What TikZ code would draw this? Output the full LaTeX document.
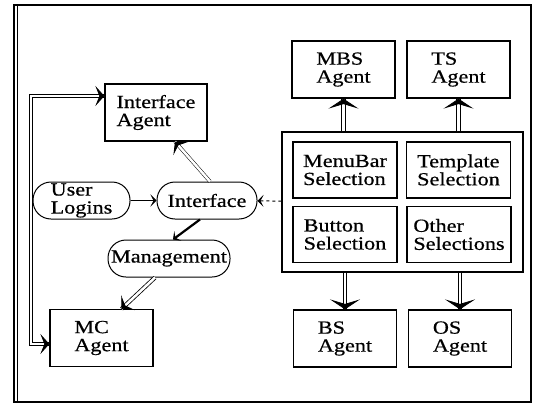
\documentclass[tikz,border=0pt]{standalone}
\usepackage{fontspec}
\setmainfont{Liberation Serif}[FakeStretch=1.2, FakeBold=0.6]
\usetikzlibrary{arrows.meta, calc}

\begin{document}
\begin{tikzpicture}[x=1pt, y=-1pt]
\tikzstyle{every node}=[font=\fontsize{18.5}{18}\selectfont, inner sep=0pt, align=left]
\tikzstyle{agentbox}=[draw, line width=1.2pt, minimum width=103pt, minimum height=57pt]
\tikzstyle{selbox}=[draw, line width=1.2pt, minimum width=104pt, minimum height=56pt]
\tikzstyle{pill}=[draw, line width=1pt, rounded corners=18pt, minimum height=37pt]
\tikzstyle{dbl}=[double, double distance=2.5pt, line width=0.8pt]
\tikzstyle{barb}=[-{Stealth[length=6pt, width=12pt, inset=3pt]}]
\tikzstyle{bigtip}=[line width=0.8pt, -{Stealth[length=10pt, width=30pt, inset=4.5pt]}]
\tikzstyle{midtip}=[line width=0.8pt, -{Stealth[length=9pt, width=20pt, inset=4pt]}]
\useasboundingbox (0,0) rectangle (534,404);
% frame
\draw[line width=1.3pt] (14,5) rectangle (531,402);
\draw[line width=1pt] (17,5) -- (17,402);

% left side
\node[agentbox, minimum width=102pt]	(ia)	at (156,112.5)	{Interface\\Agent};
\node[agentbox]				(mc)	at (101.5,338)	{MC\\Agent};
\node[pill, minimum width=97pt]		(ul)	at (81.5,200.5)	{User\\Logins};
\node[pill, minimum width=100pt]	(ifc)	at (207,200.5)	{Interface};
\node[pill, minimum width=122pt]	(mgt)	at (169,258.5)	{Management};

% selections
\node[draw, line width=1.2pt, minimum width=241pt, minimum height=140pt] (grp) at (402.5,202) {};
\node[selbox]	(mbsel)	at (345,170)	{MenuBar\\Selection};
\node[selbox]	(tsel)	at (458.5,170)	{Template\\Selection};
\node[selbox]	(bsel)	at (345,234.5)	{Button\\Selection};
\node[selbox]	(osel)	at (459,234.5)	{Other\\Selections};

\node[agentbox]	(mbs)	at (343.5,69.5)	{MBS\\Agent};
\node[agentbox]	(ts)	at (458.5,69.5)	{TS\\Agent};
\node[agentbox]	(bs)	at (345,338.5)	{BS\\Agent};
\node[agentbox]	(os)	at (460,338.5)	{OS\\Agent};

% connectors
\coordinate (hi) at (31,96);
\coordinate (lo) at (31,344);
\coordinate (iaw) at (ia.west |- hi);
\coordinate (mcw) at (mc.west |- lo);
\coordinate (ifn) at ([xshift=3pt]ifc.north);
\coordinate (ias) at ([xshift=19pt]ia.south);
\coordinate (mgs) at ([xshift=-14pt]mgt.south);
\coordinate (mcn) at ([xshift=20pt]mc.north);
\draw[dbl] (iaw) -- (hi) -- (lo) -- (mcw);
\path
(ul)	edge[barb, line width=1.2pt]	(ifc)
(grp)	edge[barb, dashed, line width=1pt]	(ifc)
([xshift=-7pt]ifc.south)	edge[barb, line width=2.2pt]	([xshift=4pt]mgt.north)
(ifn)	edge[dbl, line width=0.5pt]	(ias)
(mgs)	edge[dbl]	(mcn)
(grp.north -| mbs)	edge[dbl]	(mbs)
(grp.north -| ts)	edge[dbl]	(ts)
(grp.south -| bs)	edge[dbl]	(bs)
(grp.south -| os)	edge[dbl]	(os);
% arrow heads
\path
($(iaw)!4pt!(hi)$)	edge[midtip]	(iaw)
($(mcw)!4pt!(lo)$)	edge[midtip]	(mcw)
($(ias)!4pt!(ifn)$)	edge[midtip]	(ias)
($(mcn)!4pt!(mgs)$)	edge[midtip]	(mcn)
([yshift=-4pt]mbs.south)	edge[bigtip]	(mbs.south)
([yshift=-4pt]ts.south)	edge[bigtip]	(ts.south)
([yshift=4pt]bs.north)	edge[bigtip]	(bs.north)
([yshift=4pt]os.north)	edge[bigtip]	(os.north);
\end{tikzpicture}
\end{document}
